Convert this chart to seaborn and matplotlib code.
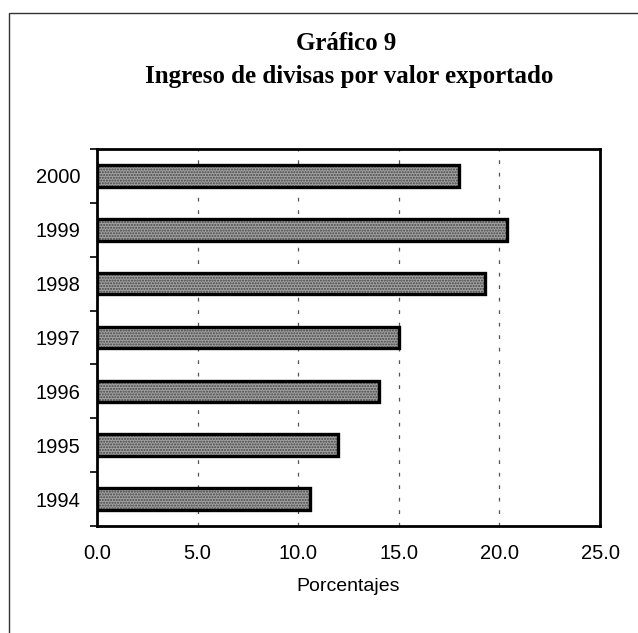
import numpy as np
import pandas as pd
import seaborn as sns
import matplotlib.pyplot as plt
from matplotlib.lines import Line2D

# === Data
years = ["2000", "1999", "1998", "1997", "1996", "1995", "1994"]
values = [18.0, 20.4, 19.3, 15.0, 14.0, 12.0, 10.6]
xticks = [0, 5, 10, 15, 20, 25]

df = pd.DataFrame({"year": years, "pct": values})

sns.set_theme(style="white")
plt.rcParams["font.family"] = ["Liberation Sans", "DejaVu Sans"]
plt.rcParams["text.color"] = "black"

fig = plt.figure(figsize=(6.38, 6.33), dpi=100)
ax = fig.add_axes([97 / 638, 1 - 526 / 633, (600 - 97) / 638, (526 - 149) / 633])

# === Bars: stippled grey fill, then black outline on top
sns.barplot(data=df, x="pct", y="year", order=years, color="#a2a2a2",
            saturation=1, width=0.4, errorbar=None, ax=ax)
for p in ax.patches:
    p.set_hatch("......")
    p.set_edgecolor("#444444")
    p.set_linewidth(0)
sns.barplot(data=df, x="pct", y="year", order=years, fill=False,
            edgecolor="black", linewidth=2.4, width=0.4, errorbar=None, ax=ax)

# === Axes styling
ax.set_xlim(0, 25)
ax.set_ylim(6.5, -0.5)
ax.set_xticks(xticks)
ax.set_xticklabels([f"{v:.1f}" for v in xticks])
ax.set_yticks(np.arange(-0.5, 7, 1), minor=True)
ax.set_axisbelow(True)
ax.xaxis.grid(True, linestyle=(0, (3, 7)), color="#555555", linewidth=0.9)
ax.yaxis.grid(False)

ax.tick_params(axis="x", length=0, pad=13, labelsize=14.5, colors="black")
ax.tick_params(axis="y", which="major", length=0, pad=12, labelsize=14.5, colors="black")
ax.tick_params(axis="y", which="minor", left=True, length=5, width=1.2, color="black")

for s in ax.spines.values():
    s.set_visible(True)
    s.set_color("black")
    s.set_linewidth(2)

ax.set_ylabel("")
ax.set_xlabel("Porcentajes", fontsize=14, labelpad=11, color="black")

# === Title
serif = ["Liberation Serif", "DejaVu Serif"]
fig.text(346 / 638, 1 - 50 / 633, "Gráfico 9", ha="center", va="baseline",
         fontsize=18, fontweight="bold", family=serif, color="black")
fig.text(349 / 638, 1 - 83 / 633, "Ingreso de divisas por valor exportado", ha="center",
         va="baseline", fontsize=18, fontweight="bold", family=serif, color="black")

# === Scan frame (top and left edges only)
fig.add_artist(Line2D([10 / 638, 1], [1 - 13 / 633, 1 - 13 / 633], color="#333333", lw=1))
fig.add_artist(Line2D([9 / 638, 9 / 638], [0, 1 - 13 / 633], color="#333333", lw=1))

plt.savefig("out.png", dpi=100)
